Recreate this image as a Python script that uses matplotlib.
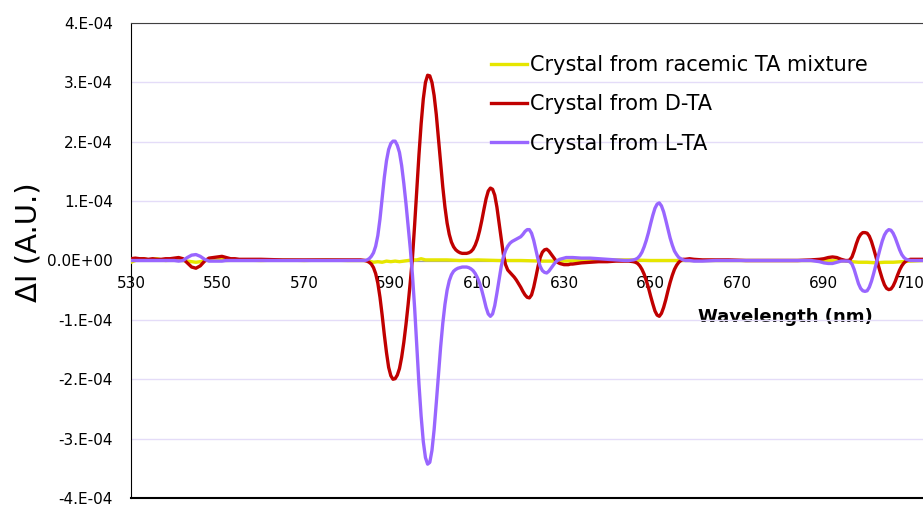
"""Differential emission spectra of tartaric-acid grown crystals."""
import matplotlib
matplotlib.use("Agg")
import matplotlib.pyplot as plt
from matplotlib.ticker import FuncFormatter

SCALE = 1e-4  # all series below are stored in units of 1e-4

# wavelength grid (nm) shared by the D-TA and L-TA crystals
wl_chiral = [
    530, 531, 532, 533, 534, 535, 536, 537, 538, 539, 540, 541, 542, 543, 544,
    545, 546, 547, 548, 549, 550, 551, 552, 553, 554, 555, 556, 558, 560, 565,
    570, 575, 580, 583,
    584.0, 584.5, 585.0, 585.5, 586.0, 586.5, 587.0, 587.5, 588.0, 588.5,
    589.0, 589.5, 590.0, 590.5, 591.0, 591.5, 592.0, 592.5, 593.0, 593.5,
    594.0, 594.5, 595.0, 595.5, 596.0, 596.5, 597.0, 597.5, 598.0, 598.5,
    599.0, 599.5, 600.0, 600.5, 601.0, 601.5, 602.0, 602.5, 603.0, 603.5,
    604.0, 604.5, 605.0, 605.5, 606.0, 606.5, 607.0, 607.5, 608.0, 608.5,
    609.0, 609.5, 610.0, 610.5, 611.0, 611.5, 612.0, 612.5, 613.0, 613.5,
    614.0, 614.5, 615.0, 615.5, 616.0, 616.5, 617.0, 617.5, 618.0, 618.5,
    619.0, 619.5, 620.0, 620.5, 621.0, 621.5, 622.0, 622.5, 623.0, 623.5,
    624.0, 624.5, 625.0, 625.5, 626.0, 626.5, 627.0, 627.5, 628.0, 628.5,
    629.0, 629.5, 630.0, 630.5, 631.0, 631.5, 632.0,
    634, 636, 638, 640, 642, 644, 645,
    646.0, 646.5, 647.0, 647.5, 648.0, 648.5, 649.0, 649.5, 650.0, 650.5,
    651.0, 651.5, 652.0, 652.5, 653.0, 653.5, 654.0, 654.5, 655.0, 655.5,
    656.0, 656.5, 657.0, 657.5, 658.0,
    659, 660, 662, 665, 668, 672, 676, 680, 684, 687, 689, 690, 691, 692,
    693, 694,
    695.0, 695.5, 696.0, 696.5, 697.0, 697.5, 698.0, 698.5, 699.0, 699.5,
    700.0, 700.5, 701.0, 701.5, 702.0, 702.5, 703.0, 703.5, 704.0, 704.5,
    705.0, 705.5, 706.0, 706.5, 707.0, 707.5, 708.0, 708.5, 709.0, 709.5,
    710, 711, 712, 713,
]

d_ta = [
    0.03, 0.04, 0.03, 0.03, 0.02, 0.03, 0.02, 0.02, 0.03, 0.03, 0.04, 0.05, 0.03, -0.04, -0.11,
    -0.13, -0.09, -0.01, 0.04, 0.05, 0.06, 0.07, 0.05, 0.03, 0.03, 0.02, 0.02, 0.02, 0.02, 0.01,
    0.01, 0.01, 0.01, 0.01,
    0.00, -0.01, -0.03, -0.06, -0.12, -0.22, -0.38, -0.62, -0.92, -1.25,
    -1.55, -1.80, -1.94, -2.00, -1.99, -1.93, -1.82, -1.63, -1.38, -1.08,
    -0.74, -0.36, 0.05, 0.60, 1.20, 1.78, 2.30, 2.72, 3.00, 3.12,
    3.11, 3.00, 2.78, 2.46, 2.06, 1.64, 1.24, 0.90, 0.63, 0.44,
    0.31, 0.23, 0.18, 0.15, 0.13, 0.12, 0.12, 0.12, 0.13, 0.15,
    0.19, 0.26, 0.36, 0.50, 0.67, 0.86, 1.04, 1.17, 1.22, 1.20,
    1.10, 0.90, 0.63, 0.35, 0.10, -0.07, -0.16, -0.20, -0.24, -0.28,
    -0.33, -0.39, -0.45, -0.52, -0.58, -0.62, -0.63, -0.58, -0.45, -0.28,
    -0.10, 0.05, 0.14, 0.18, 0.19, 0.16, 0.11, 0.06, 0.01, -0.03,
    -0.05, -0.06, -0.07, -0.07, -0.07, -0.06, -0.06,
    -0.04, -0.03, -0.02, -0.02, -0.01, -0.01, -0.01,
    -0.02, -0.03, -0.05, -0.09, -0.15, -0.23, -0.34, -0.46, -0.60, -0.73,
    -0.85, -0.92, -0.94, -0.89, -0.79, -0.66, -0.51, -0.37, -0.25, -0.15,
    -0.08, -0.03, 0.00, 0.02, 0.02,
    0.03, 0.02, 0.01, 0.01, 0.01, 0.00, 0.00, 0.00, 0.00, 0.01, 0.02, 0.03, 0.05, 0.06,
    0.05, 0.02,
    0.00, 0.00, 0.01, 0.06, 0.16, 0.28, 0.38, 0.44, 0.47, 0.47,
    0.46, 0.41, 0.32, 0.20, 0.07, -0.06, -0.19, -0.31, -0.41, -0.47,
    -0.49, -0.48, -0.43, -0.35, -0.25, -0.16, -0.09, -0.04, -0.01, 0.01,
    0.02, 0.02, 0.02, 0.02,
]

l_ta = [
    0.00, 0.00, 0.00, 0.00, 0.00, 0.00, 0.00, 0.00, 0.00, 0.00, 0.00, -0.01, 0.00, 0.05, 0.09,
    0.10, 0.07, 0.02, -0.01, -0.01, -0.01, -0.01, 0.00, 0.00, 0.00, 0.00, 0.00, 0.00, 0.00, 0.00,
    0.00, 0.00, 0.00, 0.00,
    0.00, 0.01, 0.03, 0.07, 0.13, 0.24, 0.42, 0.70, 1.05, 1.40,
    1.68, 1.87, 1.97, 2.01, 2.01, 1.94, 1.82, 1.60, 1.30, 0.96,
    0.58, 0.20, -0.25, -0.80, -1.45, -2.08, -2.62, -3.05, -3.32, -3.43,
    -3.40, -3.20, -2.85, -2.40, -1.92, -1.46, -1.06, -0.74, -0.50, -0.34,
    -0.24, -0.18, -0.15, -0.13, -0.12, -0.11, -0.11, -0.11, -0.12, -0.14,
    -0.17, -0.22, -0.29, -0.38, -0.50, -0.64, -0.79, -0.90, -0.94, -0.90,
    -0.76, -0.55, -0.32, -0.10, 0.06, 0.17, 0.24, 0.29, 0.32, 0.34,
    0.36, 0.38, 0.40, 0.44, 0.49, 0.52, 0.52, 0.46, 0.34, 0.18,
    0.02, -0.10, -0.17, -0.20, -0.21, -0.18, -0.13, -0.08, -0.03, 0.00,
    0.02, 0.03, 0.04, 0.05, 0.05, 0.05, 0.05,
    0.04, 0.04, 0.03, 0.02, 0.01, 0.00, 0.00,
    0.01, 0.02, 0.04, 0.08, 0.14, 0.23, 0.34, 0.47, 0.62, 0.76,
    0.88, 0.95, 0.97, 0.92, 0.82, 0.68, 0.53, 0.38, 0.26, 0.16,
    0.10, 0.05, 0.03, 0.01, 0.00,
    0.00, -0.01, -0.01, 0.00, 0.00, 0.00, 0.00, 0.00, 0.00, 0.00, -0.02, -0.04, -0.05, -0.05,
    -0.03, -0.01,
    -0.01, -0.01, -0.02, -0.06, -0.15, -0.27, -0.39, -0.47, -0.51, -0.52,
    -0.51, -0.45, -0.35, -0.22, -0.08, 0.06, 0.20, 0.33, 0.43, 0.49,
    0.52, 0.51, 0.46, 0.38, 0.28, 0.18, 0.10, 0.05, 0.02, 0.01,
    0.00, 0.00, 0.00, 0.00,
]

# racemic crystal: essentially flat
wl_racemic = [
    530, 531, 532, 533, 534, 535, 536, 537, 538, 540, 542, 544, 545, 546, 548,
    550, 551, 552, 555, 560, 565, 570, 575, 580, 584, 585, 586, 587, 588, 589,
    590, 591, 592, 593, 594, 595, 596, 597, 598, 600, 603, 606, 610, 615, 620,
    625, 630, 635, 640, 645, 650, 655, 660, 670, 680, 690, 695, 698, 700, 702,
    704, 706, 708, 710, 713,
]
racemic = [
    -0.03, 0.00, 0.02, 0.03, 0.01, 0.02, 0.03, 0.01, 0.00, 0.01, 0.00, -0.02, -0.03, -0.02, 0.01,
    0.01, 0.02, 0.00, 0.01, 0.00, 0.01, 0.00, 0.01, 0.00, 0.00, -0.01, -0.03, -0.02, -0.03, -0.01,
    -0.02, -0.01, -0.02, -0.01, 0.00, 0.01, 0.01, 0.03, 0.01, 0.01, 0.01, 0.00, 0.01, 0.00, 0.00,
    -0.01, -0.01, 0.00, 0.01, 0.01, 0.00, 0.00, 0.00, 0.00, 0.00, 0.00, -0.01, -0.03, -0.03, -0.04,
    -0.03, -0.03, -0.02, -0.01, 0.00,
]

x_ticks = [530, 550, 570, 590, 610, 630, 650, 670, 690, 710]
y_ticks = [-4, -3, -2, -1, 0, 1, 2, 3, 4]


def sci_label(v, _pos):
    m = int(round(v / SCALE))
    if m == 0:
        return "0.0E+00"
    return f"{m}.E-04"


fig = plt.figure(figsize=(9.23, 5.09), dpi=100)
ax = fig.add_axes([131 / 923, 11 / 509, 792 / 923, 475 / 509])

ax.plot(wl_racemic, [v * SCALE for v in racemic], color="#E6E600", lw=2.4,
        label="Crystal from racemic TA mixture", zorder=3)
ax.plot(wl_chiral, [v * SCALE for v in d_ta], color="#C00000", lw=2.4,
        label="Crystal from D-TA", zorder=4)
ax.plot(wl_chiral, [v * SCALE for v in l_ta], color="#9966FF", lw=2.4,
        label="Crystal from L-TA", zorder=5)

ax.set_xlim(530, 712.9)
ax.set_ylim(-4 * SCALE, 4 * SCALE)
ax.set_xticks(x_ticks)
ax.set_yticks([t * SCALE for t in y_ticks])
ax.yaxis.set_major_formatter(FuncFormatter(sci_label))

ax.grid(axis="y", color="#E4DCF8", lw=1.0, zorder=0)
ax.set_axisbelow(True)

# category axis crosses at zero; plot-area border stays at the bottom
ax.spines["bottom"].set_position(("data", 0))
ax.spines["bottom"].set_color("#A0A0A0")
ax.spines["right"].set_visible(False)
ax.spines["left"].set_color("black")
ax.spines["top"].set_color("#404040")
ax.axhline(-4 * SCALE, color="black", lw=1.5, clip_on=False, zorder=6)

ax.tick_params(axis="x", length=0, pad=11, labelsize=11)
ax.tick_params(axis="y", length=0, pad=13, labelsize=11)

ax.set_xlabel("Wavelength (nm)", fontsize=13, fontweight="bold",
              bbox=dict(facecolor="white", edgecolor="none", pad=1))
ax.xaxis.set_label_coords(0.826, 0.38)
ax.xaxis.label.set_va("center")

fig.text(29 / 923, 1 - 242 / 509, "ΔI (A.U.)", rotation=90, fontsize=21,
         ha="center", va="center")

ax.legend(loc="upper left", bbox_to_anchor=(0.455, 0.933), frameon=False,
          fontsize=15, handlelength=1.7, handletextpad=0.15,
          labelspacing=0.93, borderpad=0, borderaxespad=0)

fig.savefig("out.png", dpi=100)
